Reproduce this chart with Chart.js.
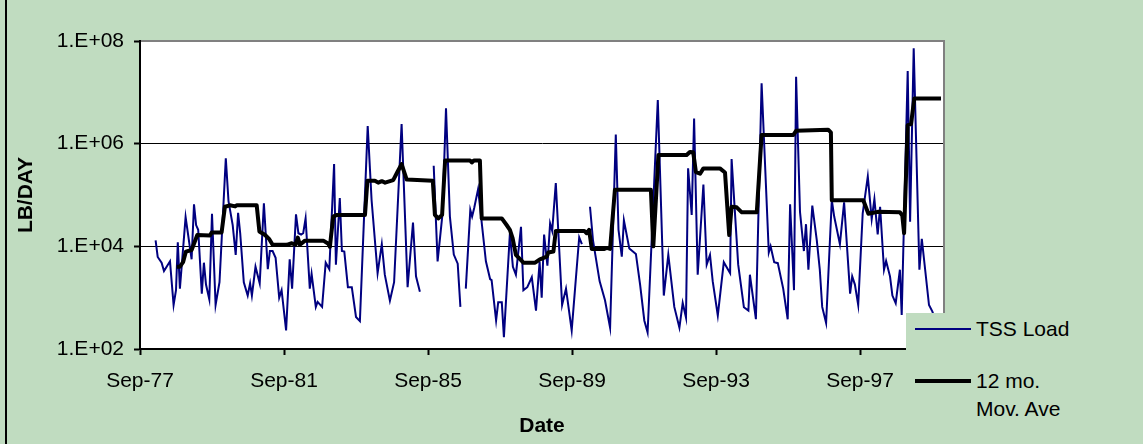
<!DOCTYPE html>
<html>
<head>
<meta charset="utf-8">
<title>TSS Load</title>
<script src="https://cdn.jsdelivr.net/npm/chart.js@4.4.1/dist/chart.umd.min.js"></script>
<style>
  html, body { margin: 0; padding: 0; background: #c0dcc0; }
  #wrap { position: relative; width: 1143px; height: 444px; overflow: hidden; }
  #frame { position: absolute; left: 5px; top: 0; width: 2px; height: 444px; background: #000; }
  #legend {
    position: absolute; left: 906px; top: 313px; width: 237px; height: 131px;
    background: #c0dcc0; color: #000;
    font: 21px "Liberation Sans", Arial, sans-serif;
  }
  .swatch { position: absolute; left: 9px; width: 56px; }
  .label { position: absolute; left: 70px; line-height: 28px; white-space: nowrap; }
</style>
</head>
<body>
<div id="wrap">
  <canvas id="chart" width="1143" height="444"></canvas>
  <div id="frame"></div>
  <div id="legend">
    <div class="swatch" style="top:15px;height:2px;background:#000080"></div>
    <div class="label" style="top:2px">TSS Load</div>
    <div class="swatch" style="top:66px;height:4px;background:#000"></div>
    <div class="label" style="top:54px">12 mo.<br>Mov. Ave</div>
  </div>
</div>
<script>
// x positions are months after Sep-1977
const tickMonths = [0, 48, 96, 144, 192, 240];
const tickLabels = ["Sep-77", "Sep-81", "Sep-85", "Sep-89", "Sep-93", "Sep-97"];
const yTicks = [1e2, 1e4, 1e6, 1e8];
const yTickLabels = ["1.E+02", "1.E+04", "1.E+06", "1.E+08"];

// TSS load, LB/DAY (null = missing samples)
const tssMonth = [
  5.2, 5.9, 7.2, 8.0, 10.0, 11.2, 12.0, 12.6, 13.3, 15.2,
  17.2, 18.0, 18.7, 19.4, 20.6, 21.3, 22.0, 23.1, 24.0, 25.2,
  26.5, 28.6, 29.5, 30.9, 31.9, 32.7, 33.4, 34.6, 35.9, 36.7,
  37.3, 38.5, 39.9, 41.3, 42.6, 43.3, 44.2, 45.2, 46.4, 47.2,
  48.7, 49.9, 50.7, 52.0, 52.8, 53.7, 54.4, 55.2, 56.6, 57.2,
  58.6, 59.2, 60.7, 61.9, 63.1, 64.7, 65.3, 66.6, 67.3, 68.1,
  69.3, 70.6, 72.0, 73.3, 75.9, 77.2, 79.2, 80.6, 81.6, 83.3,
  84.7, 87.2, 89.2, 91.0, 92.0, 93.3, 95.5, 97.9, 99.2, 100.8,
  102.0, 103.3, 104.6, 105.9, 106.8, 107.7, 108.6, 110.1, 110.7, 111.4,
  112.7, 115.3, 116.7, 117.2, 118.7, 119.4, 120.6, 121.3, 123.3, 124.3,
  125.3, 127.0, 127.8, 129.1, 130.6, 132.0, 133.2, 133.9, 134.7, 135.8,
  136.7, 137.4, 138.6, 140.7, 142.0, 143.9, 146.4, 147.3, 148.6, 150.0,
  151.0, 153.2, 155.0, 156.7, 158.6, 159.5, 160.6, 161.3, 163.1, 165.3,
  166.7, 168.1, 169.2, 172.6, 174.6, 176.1, 178.1, 179.8, 180.9, 182.0,
  182.7, 183.9, 184.7, 185.9, 187.8, 188.9, 190.0, 190.9, 192.6, 194.6,
  196.7, 197.2, 199.4, 201.3, 202.8, 203.3, 205.3, 207.2, 209.6, 210.2,
  211.4, 212.6, 214.4, 215.9, 216.7, 218.0, 218.7, 220.0, 221.3, 222.0,
  222.8, 224.1, 225.6, 226.6, 227.4, 228.7, 230.6, 231.4, 233.3, 234.7,
  236.7, 237.4, 238.3, 239.4, 240.9, 242.6, 243.9, 244.8, 245.9, 246.7,
  248.0, 248.7, 250.0, 250.8, 251.9, 253.3, 253.9, 255.9, 256.7, 257.9,
  259.8, 260.6, 263.0, 264.1, 265.5,
];
const tssLoad = [
  1.3e4, 6.2e3, 4.8e3, 3.3e3, 5.1e3, 720, 1.4e3, 1.2e4, 1.5e3, 3.7e4,
  5.6e3, 6.6e4, 2.6e4, 2.1e4, 1.2e3, 4.8e3, 1.8e3, 930, 4.3e4, 720,
  2.0e3, 5.2e5, 7.6e4, 2.6e4, 6.8e3, 4.5e4, 1.8e4, 2.0e3, 1.1e3, 1.9e3,
  1.1e3, 4.0e3, 1.9e3, 6.9e4, 3.6e3, 8.1e3, 8.1e3, 6.0e3, 1.0e3, 1.4e3,
  230, 5.6e3, 1.5e3, 4.2e4, 1.8e4, 1.7e4, 1.8e4, 3.5e4, 1.5e3, 2.9e3,
  660, 830, 660, 4.8e3, 3.6e3, 4.0e5, 4.4e3, 8.7e4, 8.1e3, 7.9e3,
  1.6e3, 1.6e3, 420, 350, 2.2e6, 7.9e4, 3.0e3, 1.1e4, 2.8e3, 870,
  2.0e3, 2.4e6, 1.6e3, 2.9e4, 2.6e3, 1.3e3, null, 3.7e5, 5.1e3, 4.1e4,
  4.9e6, 3.8e4, 6.9e3, 4.6e3, 660, null, 1.5e3, 5.1e4, 3.8e4, 5.6e4,
  1.3e5, 5.1e3, 2.3e3, 2.2e3, 360, 810, 810, 170, 1.8e4, 4.0e3,
  2.8e3, 2.4e4, 1.4e3, 1.6e3, 2.5e3, 560, 5.0e3, 1.0e3, 1.7e4, 4.2e3,
  2.8e4, 2.0e4, 1.7e5, 720, 1.5e3, 230, 1.5e4, 1.1e4, null, 5.9e4,
  1.3e4, 2.1e3, 890, 260, 1.5e6, 2.1e4, 6.3e3, 3.2e4, 9.1e3, 7.1e3,
  1.8e3, 360, 210, 7.1e6, 1.1e3, 6.9e3, 660, 260, 790, 410,
  3.3e5, 4.1e4, 3.1e6, 2.8e3, 1.6e5, 4.4e3, 6.8e3, 2.1e3, 450, 4.9e3,
  3.0e3, 5.0e5, 4.4e3, 650, 560, 2.8e3, 380, 1.5e7, 7.6e3, 1.0e4,
  4.9e3, 4.7e3, 1.5e3, 380, 6.6e4, 1.4e3, 2.0e7, 4.7e4, 8.1e3, 2.7e4,
  3.5e3, 6.2e4, 1.3e4, 3.5e3, 660, 320, 7.9e4, 3.8e4, 1.1e4, 7.2e4,
  1.2e3, 2.6e3, 1.8e3, 720, 4.4e4, 2.3e5, 3.4e4, 8.3e4, 1.7e4, 5.9e4,
  3.5e3, 5.2e3, 2.6e3, 1.1e3, 780, 3.5e3, 460, 2.6e7, 3.0e4, 7.2e7,
  3.5e3, 1.4e4, 720, 540, 320,
];

// 12 month moving average, LB/DAY
const avgMonth = [
  12.2, 13.3, 14.4, 15.3, 17.2, 19.1, 23.3, 23.9, 27.2, 28.3,
  30.0, 31.7, 32.2, 38.9, 39.8, 41.7, 43.1, 44.2, 48.9, 50.6,
  51.8, 52.6, 53.3, 55.0, 61.1, 62.8, 63.3, 64.4, 65.6, 75.0,
  75.8, 78.3, 79.4, 80.6, 81.7, 84.4, 85.8, 87.2, 88.9, 97.6,
  98.3, 99.4, 100.7, 101.7, 110.0, 110.6, 111.3, 113.3, 113.9, 120.6,
  122.2, 123.3, 124.2, 125.3, 127.8, 131.7, 133.3, 135.6, 136.1, 137.8,
  138.6, 148.1, 148.9, 149.7, 150.6, 154.8, 155.6, 156.7, 158.3, 170.3,
  171.1, 172.8, 182.2, 183.3, 184.4, 185.3, 186.7, 187.8, 193.3, 195.0,
  196.4, 197.2, 198.9, 200.6, 205.6, 207.2, 217.8, 218.7, 229.4, 230.3,
  230.6, 241.1, 242.8, 245.9, 253.3, 254.1, 254.7, 255.9, 257.0, 258.1,
  267.0,
];
const avgLoad = [
  4.0e3, 4.0e3, 5.0e3, 7.9e3, 8.5e3, 1.66e4, 1.62e4, 1.86e4, 1.86e4, 5.9e4,
  6.3e4, 6.0e4, 6.3e4, 6.3e4, 1.95e4, 1.66e4, 1.38e4, 1.07e4, 1.07e4, 1.15e4,
  1.07e4, 1.48e4, 1.07e4, 1.29e4, 1.29e4, 1.12e4, 9.8e3, 3.8e4, 4.1e4, 4.1e4,
  1.9e5, 1.9e5, 1.74e5, 1.86e5, 1.74e5, 1.95e5, 2.8e5, 4.0e5, 2.0e5, 1.9e5,
  4.1e4, 3.5e4, 4.1e4, 4.7e5, 4.7e5, 4.3e5, 4.7e5, 4.7e5, 3.5e4, 3.5e4,
  2.6e4, 2.1e4, 1.45e4, 6.8e3, 4.8e3, 4.8e3, 5.6e3, 6.3e3, 7.6e3, 7.9e3,
  2.0e4, 2.0e4, 1.8e4, 2.1e4, 8.9e3, 8.9e3, 9.3e3, 8.9e3, 1.26e5, 1.26e5,
  1.0e4, 6.0e5, 6.0e5, 6.9e5, 6.8e5, 2.8e5, 2.6e5, 3.3e5, 3.3e5, 2.75e5,
  1.66e4, 5.9e4, 5.75e4, 4.6e4, 4.6e4, 1.48e6, 1.48e6, 1.78e6, 1.86e6, 1.66e6,
  7.9e4, 7.9e4, 4.3e4, 4.7e4, 4.6e4, 4.0e4, 1.8e4, 2.3e6, 2.4e6, 7.6e6,
  7.6e6,
];

const FONT = "'Liberation Sans', Arial, sans-serif";

function toPoints(months, values) {
  return months.map((m, i) => ({ x: m, y: values[i] }));
}

// white plot area and the grey top/right frame of the plot
const plotFrame = {
  id: "plotFrame",
  beforeDraw(chart) {
    const { ctx, chartArea: a } = chart;
    ctx.save();
    ctx.fillStyle = "#ffffff";
    ctx.fillRect(a.left, a.top, a.right - a.left, a.bottom - a.top);
    ctx.restore();
  },
  beforeDatasetsDraw(chart) {
    const { ctx, chartArea: a } = chart;
    ctx.save();
    ctx.strokeStyle = "#808080";
    ctx.lineWidth = 2;
    ctx.beginPath();
    ctx.moveTo(a.left + 1, a.top);
    ctx.lineTo(a.right, a.top);
    ctx.lineTo(a.right, a.bottom);
    ctx.stroke();
    ctx.restore();
  },
};

new Chart(document.getElementById("chart"), {
  type: "line",
  data: {
    datasets: [
      {
        label: "TSS Load",
        data: toPoints(tssMonth, tssLoad),
        borderColor: "#000080",
        borderWidth: 2,
        pointRadius: 0,
        tension: 0,
        spanGaps: false,
        order: 2,
      },
      {
        label: "12 mo. Mov. Ave",
        data: toPoints(avgMonth, avgLoad),
        borderColor: "#000000",
        borderWidth: 4,
        pointRadius: 0,
        tension: 0,
        borderJoinStyle: "round",
        order: 1,
      },
    ],
  },
  options: {
    responsive: false,
    animation: false,
    layout: { padding: { left: 0, right: 199, top: 41, bottom: 0 } },
    plugins: { legend: { display: false }, tooltip: { enabled: false } },
    scales: {
      x: {
        type: "linear",
        min: 0,
        max: 268,
        afterBuildTicks(scale) {
          scale.ticks = tickMonths.map((v) => ({ value: v }));
        },
        afterFit(scale) {
          scale.height = 95;
        },
        border: { color: "#000", width: 2 },
        grid: { drawOnChartArea: false, tickLength: 6, tickWidth: 2, tickColor: "#000" },
        ticks: {
          color: "#000",
          padding: 14,
          maxRotation: 0,
          font: { family: FONT, size: 21 },
          callback: (v, i) => tickLabels[i],
        },
        title: {
          display: true,
          text: "Date",
          color: "#000",
          font: { family: FONT, size: 21, weight: "bold" },
          padding: { top: 0, bottom: 5 },
        },
      },
      y: {
        type: "logarithmic",
        min: 1e2,
        max: 1e8,
        afterBuildTicks(scale) {
          scale.ticks = yTicks.map((v) => ({ value: v }));
        },
        afterFit(scale) {
          scale.width = 140;
        },
        border: { color: "#000", width: 2 },
        grid: { color: "#000", lineWidth: 1, tickLength: 6, tickWidth: 2, tickColor: "#000" },
        ticks: {
          color: "#000",
          padding: 10,
          font: { family: FONT, size: 21 },
          callback: (v, i) => yTickLabels[i],
        },
        title: {
          display: true,
          text: "LB/DAY",
          color: "#000",
          font: { family: FONT, size: 21, weight: "bold" },
          padding: { top: 14, bottom: 0 },
        },
      },
    },
  },
  plugins: [plotFrame],
});
</script>
</body>
</html>
